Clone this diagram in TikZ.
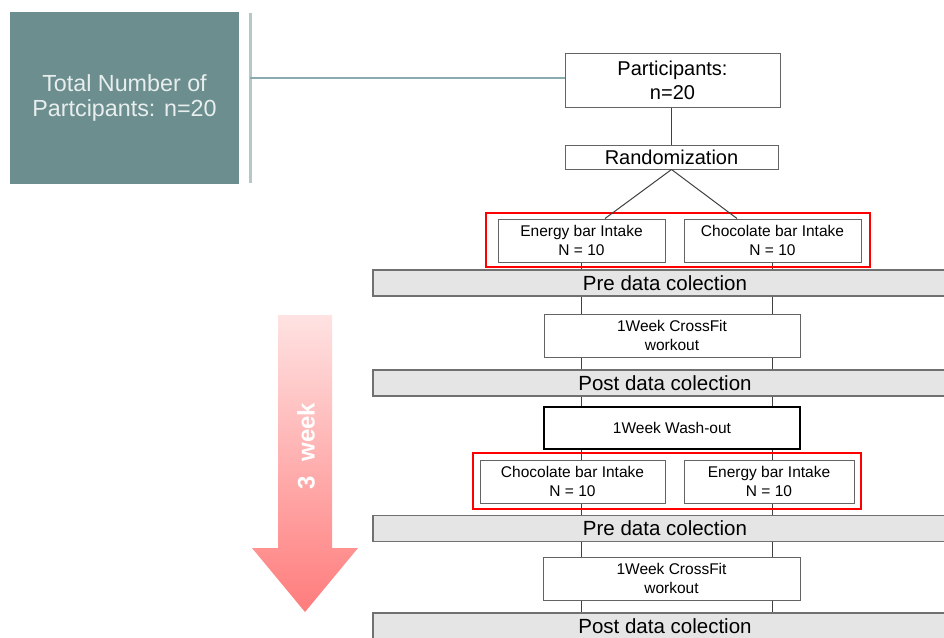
\documentclass[tikz,border=0pt]{standalone}
\usepackage{fontspec}
\setmainfont{Liberation Sans}
\usetikzlibrary{positioning, calc, backgrounds}

\definecolor{totalteal}{RGB}{108, 142, 142}
\definecolor{septeal}{RGB}{180, 200, 202}
\definecolor{linkteal}{RGB}{138, 171, 174}
\definecolor{totaltext}{RGB}{232, 238, 238}
\definecolor{bargray}{RGB}{229, 229, 229}
\definecolor{barline}{RGB}{112, 112, 112}
\definecolor{boxline}{RGB}{100, 100, 100}
\definecolor{weektop}{RGB}{255, 226, 226}
\definecolor{weekbot}{RGB}{255, 124, 124}

\tikzset{
  totalbox/.style={fill=totalteal, text=totaltext, inner sep=0pt, align=center,
    minimum width=229pt, minimum height=172pt, font=\fontsize{23.3}{25}\selectfont},
  stepbox/.style={draw=boxline, line width=1pt, fill=white, inner sep=0pt, align=center,
    font=\fontsize{15.5}{19}\selectfont},
  topbox/.style={stepbox, font=\fontsize{20}{24}\selectfont},
  intakebox/.style={stepbox, minimum height=43pt},
  groupbox/.style={draw=red, line width=1.6pt, inner sep=0pt},
  barstrip/.style={draw=barline, line width=1.6pt, fill=bargray, inner sep=0pt,
    minimum width=584pt, minimum height=26pt, font=\fontsize{20.5}{24}\selectfont},
  flowline/.style={draw=black!75, line width=1pt},
}

\begin{document}
\begin{tikzpicture}[x=1pt, y=-1pt]
  \useasboundingbox (0,0) rectangle (944,637);
  \clip (0,0) rectangle (944,637);

  % Left summary
  \node[totalbox] (total) at (124.5, 98) {Total Number of\\Partcipants: n=20};
  \coordinate (sepT) at (250, 13);
  \coordinate (sepB) at (250, 183);
  \draw[septeal, line width=3pt] (sepT) -- (sepB);

  % Top of flow
  \node[topbox, minimum width=215pt, minimum height=54pt] (part) at (672.5, 80) {Participants:\\n=20};
  \node[topbox, minimum width=213pt, minimum height=24pt] (rand) at (671.5, 157) {Randomization};
  \draw[linkteal, line width=1.5pt] (sepT |- 0,78) -- (part.west |- 0,78);
  \draw[flowline] (part.south -| rand.north) -- (rand.north);

  % First period
  \node[groupbox, minimum width=384pt, minimum height=54pt] (grpA) at (678, 240) {};
  \node[intakebox, minimum width=167pt] (ebarA) at (581.5, 240.5) {Energy bar Intake\\N = 10};
  \node[intakebox, minimum width=177pt] (cbarA) at (772.5, 240.5) {Chocolate bar Intake\\N = 10};
  \draw[flowline] (rand.south) -- ($(ebarA.north)+(23.5,0)$);
  \draw[flowline] (rand.south) -- ($(cbarA.north)+(-35.5,0)$);
  \node[barstrip] (preA) at (665, 283) {Pre data colection};
  \node[stepbox, minimum width=256pt, minimum height=43pt] (cfA) at (672, 335.5) {1Week CrossFit\\workout};
  \node[barstrip] (postA) at (665, 383) {Post data colection};
  \node[stepbox, draw=black, line width=2pt, minimum width=256pt, minimum height=42pt] (wash) at (672, 428) {1Week Wash-out};

  % Second period
  \node[groupbox, minimum width=388pt, minimum height=56pt] (grpB) at (667, 481) {};
  \node[intakebox, minimum width=185pt] (cbarB) at (572.5, 481.5) {Chocolate bar Intake\\N = 10};
  \node[intakebox, minimum width=170pt] (ebarB) at (769, 481.5) {Energy bar Intake\\N = 10};
  \node[barstrip] (preB) at (665, 528.5) {Pre data colection};
  \node[stepbox, minimum width=257pt, minimum height=43pt] (cfB) at (671.5, 578.5) {1Week CrossFit\\workout};
  \node[barstrip] (postB) at (665, 626) {Post data colection};

  % Vertical flow lines
  \begin{scope}[on background layer]
    \draw[flowline] (ebarA.south -| 581,0) -- (581, 637);
    \draw[flowline] (cbarA.south) -- (cbarA.south |- 0,637);
  \end{scope}

  % Duration arrow
  \shade[top color=weektop, bottom color=weekbot]
    (278,315) -- (332,315) -- (332,548) -- (358,548) -- (305,612) -- (252,548) -- (278,548) -- cycle;
  \node[text=white, rotate=90, font=\fontsize{24}{24}\selectfont\bfseries] (week) at (306, 446) {3\hspace{0.6em}week};
\end{tikzpicture}
\end{document}
